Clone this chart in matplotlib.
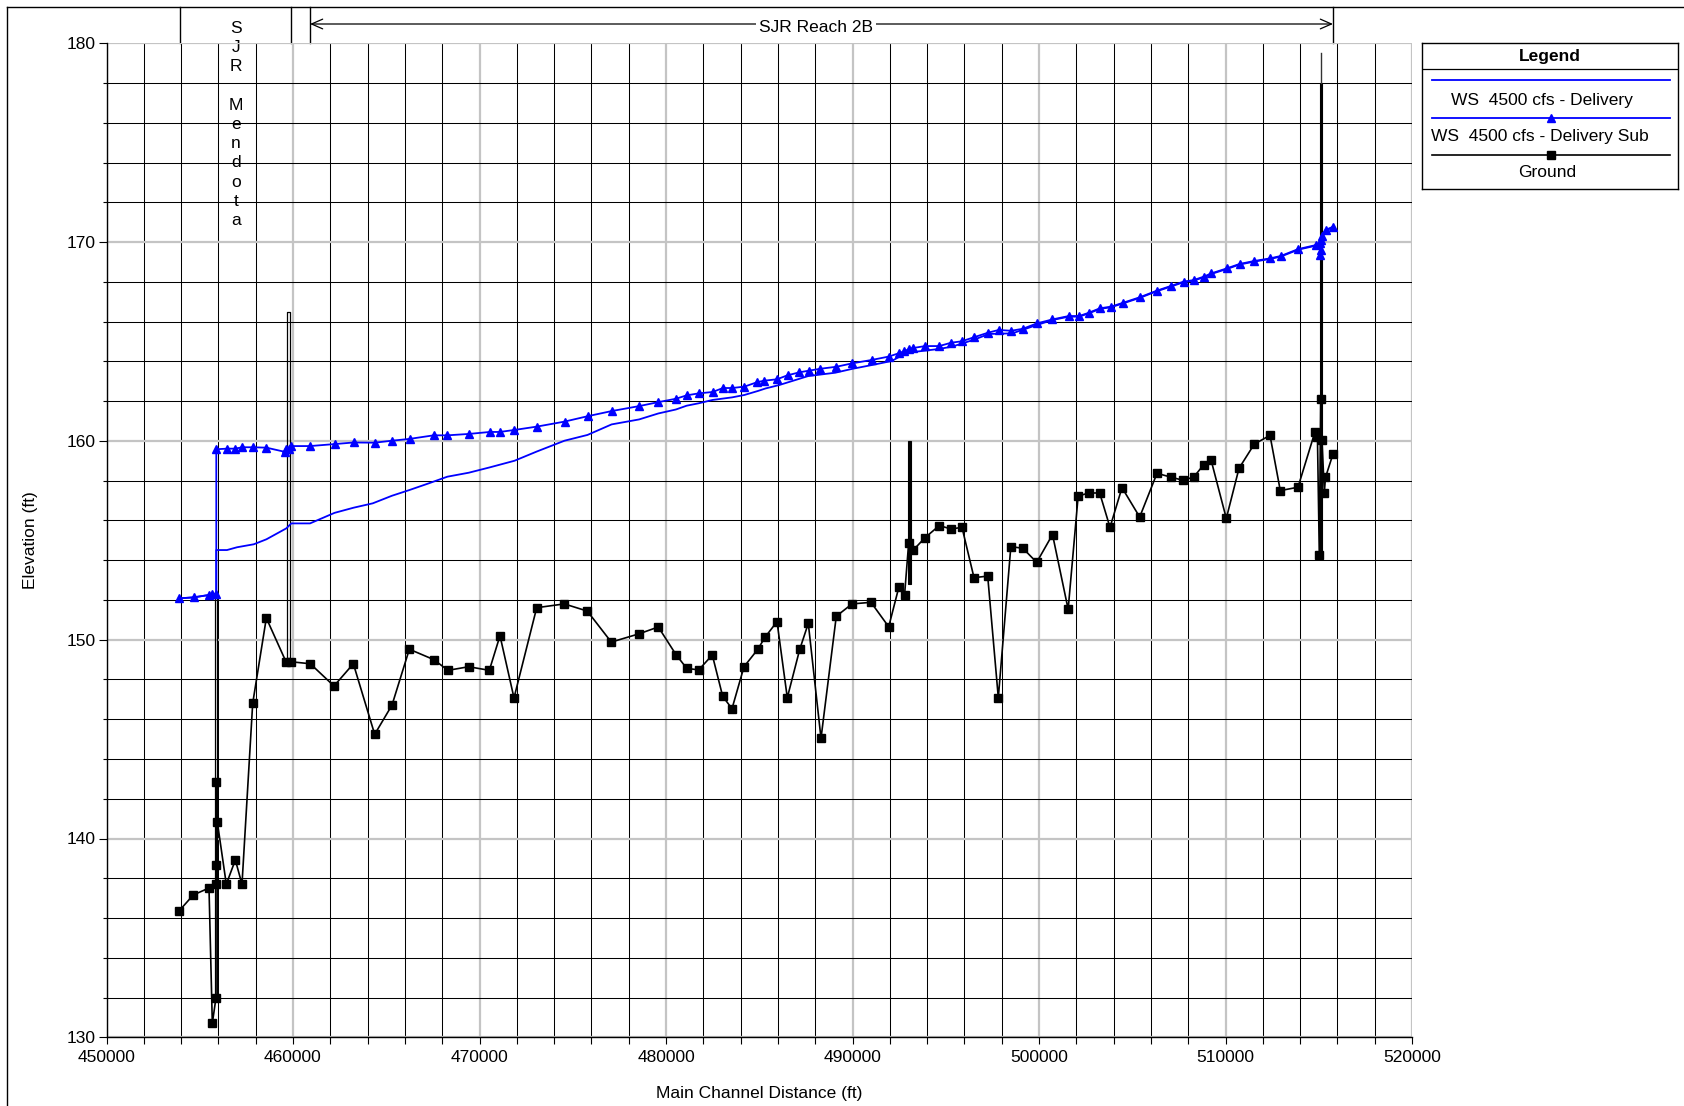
import matplotlib
matplotlib.use("Agg")
import matplotlib.pyplot as plt
from matplotlib.ticker import MultipleLocator

plt.rcParams['font.family'] = ['Liberation Sans', 'DejaVu Sans']

# ---------------- data ----------------
ground_x = [453904, 454654, 455496, 455674, 455871, 455871, 455876, 455880, 455941, 456424,
            456908, 457265, 457839, 458570, 459625, 459893, 460928, 462198, 463236, 464380,
            465308, 466238, 467544, 468311, 469420, 470527, 471099, 471850, 473067, 474547,
            475780, 477067, 478568, 479587, 480536, 481110, 481753, 482483, 483040, 483539,
            484182, 484917, 485308, 485952, 486504, 487169, 487630, 488311, 489131, 489973,
            490992, 491941, 492493, 492790, 493013, 493260, 493887, 494654, 495281, 495871,
            496515, 497249, 497818, 498490, 499135, 499877, 500725, 501563, 502100, 502681,
            503254, 503807, 504450, 505399, 506327, 507061, 507721, 508295, 508831, 509223,
            510043, 510724, 511544, 512386, 512938, 513887, 514799, 514930, 515030, 515105,
            515174, 515300, 515360, 515760]
ground_y = [136.37, 137.16, 137.51, 130.70, 131.99, 142.84, 137.70, 138.67, 140.84, 137.70,
            138.92, 137.70, 146.80, 151.09, 148.89, 148.89, 148.79, 147.67, 148.79, 145.24,
            146.71, 149.52, 149.00, 148.46, 148.64, 148.46, 150.20, 147.07, 151.61, 151.80,
            151.44, 149.88, 150.30, 150.64, 149.25, 148.56, 148.48, 149.23, 147.15, 146.53,
            148.64, 149.51, 150.12, 150.91, 147.08, 149.51, 150.82, 145.04, 151.18, 151.80,
            151.88, 150.65, 152.67, 152.23, 154.88, 154.51, 155.13, 155.74, 155.57, 155.65,
            153.12, 153.20, 147.08, 154.68, 154.60, 153.89, 155.29, 151.53, 157.23, 157.38,
            157.38, 155.65, 157.65, 156.17, 158.37, 158.18, 158.02, 158.18, 158.80, 159.05,
            156.10, 158.62, 159.84, 160.28, 157.50, 157.67, 160.46, 160.20, 154.26, 162.13,
            160.05, 157.40, 158.16, 159.33]

ws_sub_x = [453893, 454676, 455496, 455678, 455887, 455887, 456461, 456890, 457282, 457834,
            458574, 459560, 459641, 459786, 459909, 460912, 462226, 463250, 464381, 465303,
            466247, 467539, 468279, 469426, 470557, 471088, 471871, 473083, 474558, 475791,
            477083, 478558, 479587, 480531, 481105, 481743, 482499, 483056, 483544, 484204,
            484906, 485281, 485952, 486515, 487158, 487641, 488284, 489142, 489973, 491019,
            491936, 492520, 492772, 493019, 493228, 493898, 494649, 495292, 495855, 496504,
            497255, 497839, 498509, 499131, 499882, 500718, 501592, 502155, 502681, 503265,
            503845, 504515, 505389, 506327, 507061, 507748, 508290, 508831, 509249, 510080,
            510751, 511544, 512381, 512960, 513903, 514842, 515060, 515088, 515100, 515110,
            515150, 515362, 515780]
ws_sub_y = [152.08, 152.13, 152.25, 152.30, 152.30, 159.58, 159.61, 159.61, 159.68, 159.68,
            159.66, 159.45, 159.61, 159.58, 159.74, 159.74, 159.84, 159.92, 159.91, 160.01,
            160.10, 160.28, 160.28, 160.35, 160.45, 160.45, 160.55, 160.72, 160.97, 161.24,
            161.50, 161.75, 161.95, 162.12, 162.29, 162.39, 162.46, 162.66, 162.66, 162.73,
            162.96, 163.03, 163.10, 163.30, 163.45, 163.53, 163.63, 163.73, 163.90, 164.07,
            164.24, 164.42, 164.51, 164.61, 164.67, 164.77, 164.77, 164.94, 165.01, 165.21,
            165.44, 165.58, 165.54, 165.64, 165.91, 166.11, 166.28, 166.28, 166.45, 166.67,
            166.75, 166.95, 167.22, 167.56, 167.79, 168.01, 168.09, 168.26, 168.43, 168.68,
            168.90, 169.05, 169.18, 169.30, 169.65, 169.85, 169.95, 169.36, 169.60, 170.10,
            170.30, 170.61, 170.78]

ws_x = [453893, 454676, 455496, 455678, 455887, 455887, 456461, 457000, 457898, 458574,
        459641, 459909, 460912, 462226, 463250, 464277, 465303, 466247, 467293, 468279,
        469426, 470557, 471871, 473083, 474558, 475791, 477083, 478558, 479587, 480531,
        481105, 481743, 482499, 483544, 484204, 484922, 485343, 486071, 487619, 489077,
        490015, 491061, 492100, 492729, 493246, 494606, 495335, 496483, 497319, 498570,
        499822, 500718, 501592, 502155, 502681, 503265, 503845, 504515, 505389, 506327,
        507061, 507748, 508290, 508831, 509249, 510080, 510751, 511544, 512381, 512960,
        513903, 514842, 515088, 515362, 515780]
ws_y = [152.08, 152.13, 152.25, 152.30, 152.30, 154.51, 154.51, 154.65, 154.80, 155.05,
        155.60, 155.85, 155.85, 156.38, 156.64, 156.86, 157.24, 157.53, 157.87, 158.20,
        158.40, 158.67, 159.00, 159.47, 160.01, 160.30, 160.83, 161.08, 161.38, 161.58,
        161.77, 161.89, 162.06, 162.19, 162.31, 162.51, 162.64, 162.81, 163.26, 163.43,
        163.63, 163.82, 164.02, 164.34, 164.47, 164.62, 164.74, 165.08, 165.38, 165.41,
        165.81, 166.08, 166.25, 166.25, 166.42, 166.64, 166.72, 166.92, 167.19, 167.53,
        167.76, 167.98, 168.06, 168.23, 168.40, 168.65, 168.87, 169.02, 169.15, 169.27,
        169.62, 169.82, 170.00, 170.58, 170.75]

# structures drawn as narrow vertical outlines: left x, right x, bottom, top, filled
struct_left = [455818, 459660, 492950, 515090]
struct_right = [455908, 459820, 493110, 515185]
struct_bottom = [131.9, 148.9, 152.8, 154.3]
struct_top = [152.3, 166.5, 160.0, 178.0]
struct_filled = [False, False, True, True]
# thin mast on top of the last structure
mast_x = 515130
mast_bottom = 178.0
mast_top = 179.5

x_ticks = [450000, 460000, 470000, 480000, 490000, 500000, 510000, 520000]
x_tick_labels = ["450000", "460000", "470000", "480000", "490000", "500000", "510000", "520000"]
y_ticks = [130, 140, 150, 160, 170, 180]
y_tick_labels = ["130", "140", "150", "160", "170", "180"]

series_labels = ["WS  4500 cfs - Delivery", "WS  4500 cfs - Delivery Sub", "Ground"]
reach_label = "SJR Reach 2B"
mendota_label = "SJR Mendota"

# ---------------- figure ----------------
W, H = 1684, 1106
fig = plt.figure(figsize=(W / 100, H / 100), dpi=100)

# overlay for frame/header (pixel coordinates)
oax = fig.add_axes([0, 0, 1, 1], zorder=0)
oax.set_xlim(0, W)
oax.set_ylim(H, 0)
oax.axis('off')

AX_L, AX_R, AX_T, AX_B = 106.5, 1412.0, 43.3, 1037.3
ax = fig.add_axes([AX_L / W, 1 - AX_B / H, (AX_R - AX_L) / W, (AX_B - AX_T) / H], zorder=2)
ax.patch.set_alpha(0)
ax.set_xlim(450000, 520000)
ax.set_ylim(130, 180)

ax.xaxis.set_minor_locator(MultipleLocator(2000))
ax.yaxis.set_minor_locator(MultipleLocator(2))
ax.set_xticks(x_ticks)
ax.set_xticklabels(x_tick_labels, fontsize=12.5)
ax.set_yticks(y_ticks)
ax.set_yticklabels(y_tick_labels, fontsize=12.5)
ax.grid(which='minor', color='black', lw=0.75)
ax.grid(which='major', color='#c4c4c4', lw=1.6)
ax.set_axisbelow(True)
for s in ['top', 'right']:
    ax.spines[s].set_visible(False)
for s in ['left', 'bottom']:
    ax.spines[s].set_linewidth(1.0)
ax.tick_params(axis='y', which='major', length=6, width=0.8, pad=2)
ax.tick_params(axis='y', which='minor', length=3, width=0.8)
ax.tick_params(axis='x', which='both', length=5, width=0.8, pad=4)

ax.set_ylabel("Elevation (ft)", fontsize=12.5, labelpad=20)
ax.set_xlabel("Main Channel Distance (ft)", fontsize=12.5, labelpad=15)

# structures
for xl, xr, yb, yt, filled in zip(struct_left, struct_right, struct_bottom, struct_top, struct_filled):
    if filled:
        ax.fill([xl, xr, xr, xl], [yb, yb, yt, yt], color='black', lw=0.8, zorder=3)
    else:
        ax.plot([xl, xl, xr, xr], [yb, yt, yt, yb], color='black', lw=0.9, zorder=3)
ax.plot([mast_x, mast_x], [mast_bottom, mast_top], color='#333333', lw=1.0, zorder=3)

blue = '#0000ff'
ax.plot(ws_x, ws_y, color=blue, lw=1.3, zorder=4)
ax.plot(ws_sub_x, ws_sub_y, color=blue, lw=1.3, marker='^', ms=6, mec=blue, mfc=blue, zorder=5)
ax.plot(ground_x, ground_y, color='black', lw=1.2, marker='s', ms=6, zorder=6)

# ---------------- frame & header ----------------
k = 'black'
oax.plot([6.7, W], [6.7, 6.7], color=k, lw=1)
oax.plot([6.7, 6.7], [6.7, H], color=k, lw=1)
for xv in [179.5, 291.0, 310.0, 1333.0]:
    oax.plot([xv, xv], [6.7, AX_T], color=k, lw=1)
oax.annotate('', xy=(310, 24), xytext=(1333, 24),
             arrowprops=dict(arrowstyle='<->,head_length=0.8,head_width=0.35', lw=0.9, color=k,
                             shrinkA=0, shrinkB=0))
oax.text(816, 27.5, reach_label, ha='center', va='center', fontsize=12.5,
         bbox=dict(facecolor='white', edgecolor='none', pad=2))
oax.text(236, 21, '\n'.join(mendota_label), ha='center', va='top', fontsize=12.5,
         linespacing=1.35, zorder=3)

# ---------------- legend ----------------
LL, LR, LT, LB = 1421.7, 1678.3, 43.3, 189.3
lax = fig.add_axes([LL / W, 1 - LB / H, (LR - LL) / W, (LB - LT) / H], zorder=3)
lax.set_xlim(0, LR - LL)
lax.set_ylim(LB - LT, 0)
lax.set_xticks([])
lax.set_yticks([])
for s in lax.spines.values():
    s.set_linewidth(1.0)
lw_ = LR - LL
lax.plot([0, lw_], [26, 26], color=k, lw=0.9)
lax.text(lw_ / 2, 13.5, "Legend", ha='center', va='center', fontsize=12.5, fontweight='bold')
lx0, lx1 = 10, 248
lax.plot([lx0, lx1], [36.7, 36.7], color=blue, lw=1.3)
lax.text(lw_ / 2 - 8, 57, series_labels[0], ha='center', va='center', fontsize=12.5)
lax.plot([lx0, lx1], [75, 75], color=blue, lw=1.3)
lax.plot([(lx0 + lx1) / 2], [75], marker='^', ms=6, color=blue)
lax.text(lw_ / 2 - 10, 93.5, series_labels[1], ha='center', va='center', fontsize=12.5)
lax.plot([lx0, lx1], [111.7, 111.7], color=k, lw=1.2)
lax.plot([(lx0 + lx1) / 2], [111.7], marker='s', ms=6, color=k)
lax.text(lw_ / 2 - 3, 129.5, series_labels[2], ha='center', va='center', fontsize=12.5)

fig.savefig("out.png", dpi=100)
